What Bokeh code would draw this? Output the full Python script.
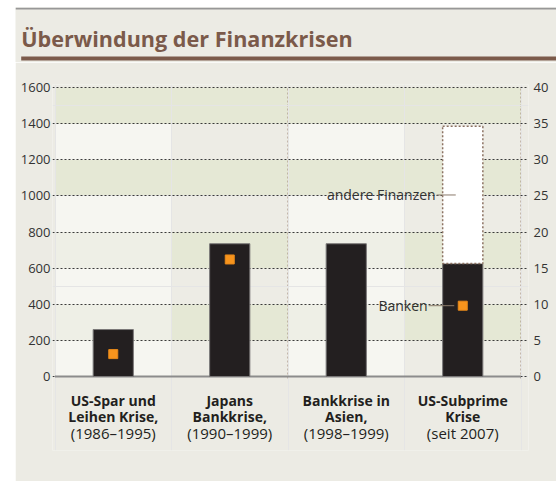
from bokeh.plotting import figure
from bokeh.layouts import column
from bokeh.models import Range1d, LinearAxis, FixedTicker, Grid
from bokeh.core.properties import value
from bokeh.embed import file_html
from bokeh.resources import INLINE

# ---------------- data ----------------
title_text = "Überwindung der Finanzkrisen"
cat_line1 = ["US-Spar und", "Japans", "Bankkrise in", "US-Subprime"]
cat_line2 = ["Leihen Krise,", "Bankkrise,", "Asien,", "Krise"]
cat_period = ["(1986–1995)", "(1990–1999)", "(1998–1999)", "(seit 2007)"]
banks = [260, 735, 735, 625]            # left axis
other_finance = [0, 0, 0, 760]          # left axis, stacked on banks
share_right = [3.1, 16.2, None, 9.8]    # right axis (orange squares)
left_ticks = [0, 200, 400, 600, 800, 1000, 1200, 1400, 1600]
right_ticks = [0, 5, 10, 15, 20, 25, 30, 35, 40]
label_other = "andere Finanzen"
label_banks = "Banken"

# ---------------- style ----------------
FONT = "Open Sans"
PANEL = "#ECEBE4"
GREEN = "#E5E8D5"
GREY = "#EDECE5"
WHITE = "#F6F6F1"
PALE = "#EEEFE6"
BROWN = "#7B5A4A"
BLACK = "#231F20"
ORANGE = "#F7941D"

PW = 541                 # panel width (page x 15..556)
PX = 1 / 116.5           # data units per pixel on x
YPX = 1 / 0.180625       # data units per pixel on y
ncat = len(cat_line1)
xs = [i + 0.5 for i in range(ncat)]
ymax = left_ticks[-1]
rmax = right_ticks[-1]
rk = rmax / ymax


def no_align(fig):
    if "frame_align" in fig.properties():
        fig.frame_align = False


# ---------------- header: grey top line, title, brown rule ----------------
HH = 55
header = figure(width=PW, height=HH, output_backend="svg", toolbar_location=None, tools="",
                title=None, x_axis_location=None, y_axis_location=None,
                x_range=Range1d(0, PW), y_range=Range1d(HH, 0), min_border=0,
                margin=(7, 0, 0, 15))
no_align(header)
header.background_fill_color = PANEL
header.border_fill_color = PANEL
header.outline_line_color = None
header.grid.visible = False
header.quad(left=[0, 5.7], right=[PW, PW], top=[0, 49], bottom=[2, 53],
            fill_color=["#979797", BROWN], line_color=None)
header.text(x=[5.7], y=[31.3], text=[title_text], text_font=value(FONT),
            text_font_style="bold", text_font_size="21.6px", text_color=BROWN,
            text_align="left", text_baseline="alphabetic")

# ---------------- main chart ----------------
MH = 419
p = figure(width=PW, height=MH, output_backend="svg", toolbar_location=None, tools="",
           title=None, x_axis_location=None, y_axis_location=None,
           x_range=Range1d(-2.5 * PX, ncat + 7.5 * PX),
           y_range=Range1d(-74 * YPX, ymax + 3 * YPX),
           min_border_left=37, min_border_right=28, min_border_top=22, min_border_bottom=31,
           margin=(0, 0, 0, 15))
no_align(p)
p.extra_y_ranges = {"right": Range1d(-74 * YPX * rk, rmax + 3 * YPX * rk)}
p.background_fill_color = PANEL
p.border_fill_color = PANEL
p.outline_line_color = None

# background bands (checkerboard by column and row)
ql, qr, qb, qt, qc = [], [], [], [], []
for c in range(ncat):
    for r in range(len(left_ticks) - 1):
        ql.append(c); qr.append(c + 1)
        qb.append(left_ticks[r]); qt.append(left_ticks[r + 1])
        if c % 2 == 1:
            qc.append(GREY if r % 2 == 0 else GREEN)
        else:
            if r % 2 == 0:
                qc.append(WHITE)
            else:
                qc.append(GREEN if r >= 5 else PALE)
bands = p.quad(left=ql, right=qr, bottom=qb, top=qt, fill_color=qc, line_color=None)
bands.level = "image"

# value axes
yl = LinearAxis(ticker=FixedTicker(ticks=left_ticks))
yr = LinearAxis(ticker=FixedTicker(ticks=right_ticks), y_range_name="right")
for ax, st in ((yl, 2), (yr, 5)):
    ax.axis_line_color = None
    ax.major_tick_line_color = None
    ax.minor_tick_line_color = None
    ax.major_tick_out = 0
    ax.major_tick_in = 0
    ax.major_label_standoff = st
    ax.major_label_text_font = FONT
    ax.major_label_text_font_size = "13px"
    ax.major_label_text_color = "#333333"
p.add_layout(yl, "left")
p.add_layout(yr, "right")

# grids
hg = Grid(dimension=1, ticker=FixedTicker(ticks=left_ticks), grid_line_color="#3a3a3a",
          grid_line_dash="2 2", grid_line_width=1)
p.add_layout(hg, "center")
vx = list(range(1, ncat + 1))
p.segment(x0=vx, x1=vx, y0=[-2 * YPX] * ncat, y1=[ymax] * ncat, line_color="#9A8270",
          line_dash="2 2", line_width=1, level="underlay")

# baseline
p.segment(x0=[0], x1=[ncat], y0=[0], y1=[0], line_color="#8C8C8C", line_width=2)

# bars
bw = 0.345
p.vbar(x=xs, bottom=0, top=banks, width=bw, fill_color=BLACK, line_color="#7a7878", line_width=1)
ox = [x for x, o in zip(xs, other_finance) if o > 0]
ob = [b for b, o in zip(banks, other_finance) if o > 0]
ot = [b + o for b, o in zip(banks, other_finance) if o > 0]
p.vbar(x=ox, bottom=ob, top=ot, width=bw, fill_color="white", line_color="#8C7262",
       line_width=1.5, line_dash="2 2")

# orange squares (right axis)
sx = [x for x, s in zip(xs, share_right) if s is not None]
sy = [s for s in share_right if s is not None]
p.scatter(x=sx, y=sy, marker="square", size=9, fill_color=ORANGE, line_color="#E8891A",
          y_range_name="right")

# annotations with leader lines (on the last category)
xl = xs[-1]
left_edge = xl - bw / 2
y_other = banks[-1] + other_finance[-1] / 2
y_bank = share_right[-1] / rk
lx0 = [left_edge - 6 * PX, left_edge - 14 * PX]
lx1 = [xl - 7 * PX, xl - 8.5 * PX]
ly = [y_other, y_bank]
p.segment(x0=lx0, x1=lx1, y0=ly, y1=ly, line_color="#8B7A6A", line_width=1)
p.text(x=[v - 1 * PX for v in lx0], y=ly, text=[label_other, label_banks],
       text_align="right", text_baseline="alphabetic", text_font=value(FONT),
       text_font_size="14px", text_color="#333333")

# category labels under the baseline
for lines, off, style, size in ((cat_line1, 24, "bold", "14px"), (cat_line2, 40, "bold", "14px"),
                                (cat_period, 56, "normal", "15px")):
    p.text(x=xs, y=[0] * ncat, text=lines, y_offset=off, text_align="center",
           text_baseline="middle", text_font=value(FONT), text_font_style=style,
           text_font_size=size, text_color=BLACK)

# ---------------- footer: grey bottom line ----------------
footer = figure(width=PW, height=2, output_backend="svg", toolbar_location=None, tools="",
                title=None, x_axis_location=None, y_axis_location=None, min_border=0,
                margin=(0, 0, 0, 15))
no_align(footer)
footer.background_fill_color = "#8E8E8E"
footer.border_fill_color = "#8E8E8E"
footer.outline_line_color = None
footer.grid.visible = False

layout = column(header, p, footer, spacing=0)
open("out.html", "w").write(file_html(layout, INLINE))
